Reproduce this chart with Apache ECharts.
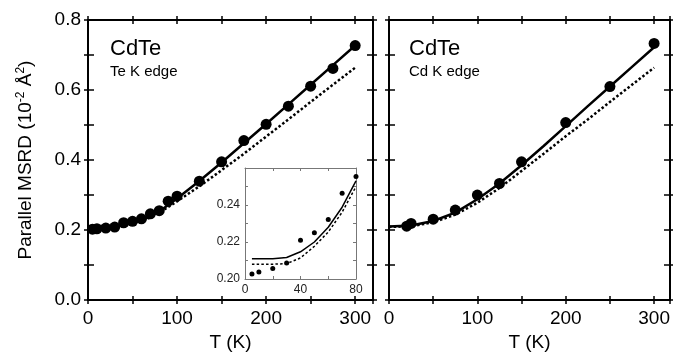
<!DOCTYPE html>
<html><head><meta charset="utf-8">
<script src="https://cdn.jsdelivr.net/npm/echarts@6/dist/echarts.min.js"></script>
<style>html,body{margin:0;padding:0;background:#fff}#c{width:673px;height:357px}</style>
</head><body><div id="c"></div>
<script>
// ---- Data ----
const teT      = [5, 10, 20, 30, 40, 50, 60, 70, 80, 90, 100, 125, 150, 175, 200, 225, 250, 275, 300];
const teMSRD   = [0.2027, 0.2038, 0.2057, 0.2087, 0.2209, 0.2250, 0.2322, 0.2463, 0.2554, 0.2826, 0.2967, 0.3396, 0.3950, 0.4556, 0.5020, 0.5540, 0.6110, 0.6616, 0.7270];
const teFitT   = [0, 5, 10, 20, 30, 40, 50, 60, 70, 80, 100, 125, 150, 175, 200, 225, 250, 275, 300];
const teSolid  = [0.211, 0.211, 0.211, 0.211, 0.2116, 0.2147, 0.2200, 0.2280, 0.2388, 0.2530, 0.2900, 0.3400, 0.3930, 0.4480, 0.5030, 0.5590, 0.6150, 0.6710, 0.7270];
const teDotted = [0.208, 0.208, 0.208, 0.208, 0.2083, 0.2114, 0.2177, 0.2254, 0.2361, 0.2500, 0.2820, 0.3250, 0.3710, 0.4180, 0.4670, 0.5160, 0.5660, 0.6150, 0.6640];

const cdT      = [20, 25, 50, 75, 100, 125, 150, 200, 250, 300];
const cdMSRD   = [0.2110, 0.2190, 0.2310, 0.2570, 0.3000, 0.3330, 0.3950, 0.5070, 0.6100, 0.7330];
const cdFitT   = [0, 25, 50, 75, 100, 125, 150, 175, 200, 225, 250, 275, 300];
const cdSolid  = [0.210, 0.213, 0.226, 0.250, 0.288, 0.333, 0.385, 0.440, 0.497, 0.554, 0.610, 0.666, 0.722];
const cdDotted = [0.209, 0.211, 0.222, 0.244, 0.278, 0.320, 0.369, 0.418, 0.468, 0.516, 0.566, 0.615, 0.664];

const xTicks = [0, 100, 200, 300];
const yTicks = [0.0, 0.2, 0.4, 0.6, 0.8];
const insetXTicks = [0, 40, 80];
const insetYTicks = [0.20, 0.22, 0.24];

const panelTitle = 'CdTe';
const leftSub = 'Te K edge';
const rightSub = 'Cd K edge';

// ---- helpers ----
const FONT = 'Liberation Sans, Arial, Helvetica, sans-serif';
const zip = (a, b) => a.map((x, i) => [x, b[i]]);
const near = (v, arr) => arr.some(t => Math.abs(t - v) < 1e-6);

function xAx(grid, pos, inside, opts) {
  return Object.assign({
    type: 'value', gridIndex: grid, position: pos, min: 0, max: 320, interval: 50,
    axisLine: { show: true, onZero: false, lineStyle: { color: '#000', width: 2 } },
    axisTick: { show: true, inside: inside, length: 4, lineStyle: { color: '#000', width: 1.5 } },
    axisLabel: { show: false }, splitLine: { show: false }
  }, opts || {});
}
function yAx(grid, pos, inside, opts) {
  return Object.assign({
    type: 'value', gridIndex: grid, position: pos, min: 0, max: 0.8, interval: 0.1,
    axisLine: { show: true, onZero: false, lineStyle: { color: '#000', width: 2 } },
    axisTick: { show: true, inside: inside, length: inside ? 6 : 4, lineStyle: { color: '#000', width: 1.5 } },
    axisLabel: { show: false }, splitLine: { show: false }
  }, opts || {});
}
const xLabel = {
  show: true, fontSize: 19, color: '#000', fontFamily: FONT, margin: 9,
  formatter: v => near(v, xTicks) ? String(v) : ''
};
const yLabel = {
  show: true, fontSize: 19, color: '#000', fontFamily: FONT, margin: 7,
  formatter: v => near(v, yTicks) ? v.toFixed(1) : ''
};
const xName = { name: 'T (K)', nameLocation: 'middle', nameGap: 31,
  nameTextStyle: { fontSize: 19, color: '#000', fontFamily: FONT } };

const xAxes = [], yAxes = [];
// left panel (grid 0): axes 0..3
xAxes.push(xAx(0, 'bottom', false, Object.assign({ axisLabel: xLabel }, xName)));
xAxes.push(xAx(0, 'bottom', true));
xAxes.push(xAx(0, 'top', false));
xAxes.push(xAx(0, 'top', true));
yAxes.push(yAx(0, 'left', false, {
  axisLabel: yLabel,
  name: 'Parallel MSRD (10{sup|-2} Å{sup|2})', nameLocation: 'middle', nameGap: 52,
  nameTextStyle: { fontSize: 19, color: '#000', fontFamily: FONT,
    rich: { sup: { fontSize: 12, fontFamily: FONT, color: '#000', padding: [0, 0, 9, 0] } } }
}));
yAxes.push(yAx(0, 'left', true));
yAxes.push(yAx(0, 'right', false));
yAxes.push(yAx(0, 'right', true));
// right panel (grid 1): axes 4..7
xAxes.push(xAx(1, 'bottom', false, Object.assign({ max: 318, axisLabel: xLabel }, xName)));
xAxes.push(xAx(1, 'bottom', true, { max: 318 }));
xAxes.push(xAx(1, 'top', false, { max: 318 }));
xAxes.push(xAx(1, 'top', true, { max: 318 }));
yAxes.push(yAx(1, 'left', false));
yAxes.push(yAx(1, 'left', true));
yAxes.push(yAx(1, 'right', false));
yAxes.push(yAx(1, 'right', true));
// inset (grid 2): axes 8..9
const insetLine = { show: true, onZero: false, lineStyle: { color: '#777', width: 1 } };
const insetTick = { show: true, inside: true, length: 3, lineStyle: { color: '#777', width: 1 } };
xAxes.push({ type: 'value', gridIndex: 2, position: 'bottom', min: 0, max: 80, interval: 20,
  axisLine: insetLine, axisTick: insetTick, splitLine: { show: false },
  axisLabel: { show: true, fontSize: 12, color: '#222', fontFamily: FONT, margin: 5,
    formatter: v => near(v, insetXTicks) ? String(v) : '' } });
xAxes.push({ type: 'value', gridIndex: 2, position: 'top', min: 0, max: 80, interval: 20,
  axisLine: insetLine, axisTick: insetTick, splitLine: { show: false }, axisLabel: { show: false } });
yAxes.push({ type: 'value', gridIndex: 2, position: 'left', min: 0.20, max: 0.26, interval: 0.01,
  axisLine: insetLine, axisTick: insetTick, splitLine: { show: false },
  axisLabel: { show: true, fontSize: 12, color: '#222', fontFamily: FONT, margin: 5,
    formatter: v => near(v, insetYTicks) ? v.toFixed(2) : '' } });
yAxes.push({ type: 'value', gridIndex: 2, position: 'right', min: 0.20, max: 0.26, interval: 0.01,
  axisLine: insetLine, axisTick: insetTick, splitLine: { show: false }, axisLabel: { show: false } });

const solidStyle = w => ({ color: '#000', width: w, type: 'solid' });
const dotStyle = w => ({ color: '#000', width: w, type: [2.5, 2.2] });
function lineS(xi, yi, data, style) {
  return { type: 'line', xAxisIndex: xi, yAxisIndex: yi, data: data, showSymbol: false,
    symbol: 'none', lineStyle: style, silent: true, z: 2, animation: false };
}
function dotS(xi, yi, data, size) {
  return { type: 'scatter', xAxisIndex: xi, yAxisIndex: yi, data: data, symbol: 'circle',
    symbolSize: size, itemStyle: { color: '#000', opacity: 1 }, z: 3, animation: false, clip: false };
}
const inInset = (t) => t >= 5 && t <= 80;
const insetFitT = teFitT.filter(inInset);
const insetSolid = teSolid.filter((_, i) => inInset(teFitT[i]));
const insetDotted = teDotted.filter((_, i) => inInset(teFitT[i]));
const insetT = teT.filter(t => t <= 80);
const insetV = teMSRD.filter((_, i) => teT[i] <= 80);

const option = {
  animation: false,
  backgroundColor: '#fff',
  grid: [
    { left: 88, top: 20, width: 285, height: 285 },
    { left: 389, top: 20, width: 283, height: 285 },
    { left: 245, top: 168, width: 111, height: 111 }
  ],
  xAxis: xAxes,
  yAxis: yAxes,
  graphic: [
    { type: 'text', left: 110, top: 38, style: { text: panelTitle, fontSize: 22, fontFamily: FONT, fill: '#000' } },
    { type: 'text', left: 110, top: 64, style: { text: leftSub, fontSize: 15, fontFamily: FONT, fill: '#000' } },
    { type: 'text', left: 409, top: 38, style: { text: panelTitle, fontSize: 22, fontFamily: FONT, fill: '#000' } },
    { type: 'text', left: 409, top: 64, style: { text: rightSub, fontSize: 15, fontFamily: FONT, fill: '#000' } }
  ],
  series: [
    lineS(0, 0, zip(teFitT, teDotted), dotStyle(2.5)),
    lineS(0, 0, zip(teFitT, teSolid), solidStyle(2.5)),
    dotS(0, 0, zip(teT, teMSRD), 11),
    lineS(4, 4, zip(cdFitT, cdDotted), dotStyle(2.5)),
    lineS(4, 4, zip(cdFitT, cdSolid), solidStyle(2.5)),
    dotS(4, 4, zip(cdT, cdMSRD), 11),
    lineS(8, 8, zip(insetFitT, insetDotted), dotStyle(1.5)),
    lineS(8, 8, zip(insetFitT, insetSolid), solidStyle(1.5)),
    dotS(8, 8, zip(insetT, insetV), 5)
  ]
};
const chart = echarts.init(document.getElementById('c'), null, { renderer: 'canvas' });
chart.setOption(option);
</script></body></html>
